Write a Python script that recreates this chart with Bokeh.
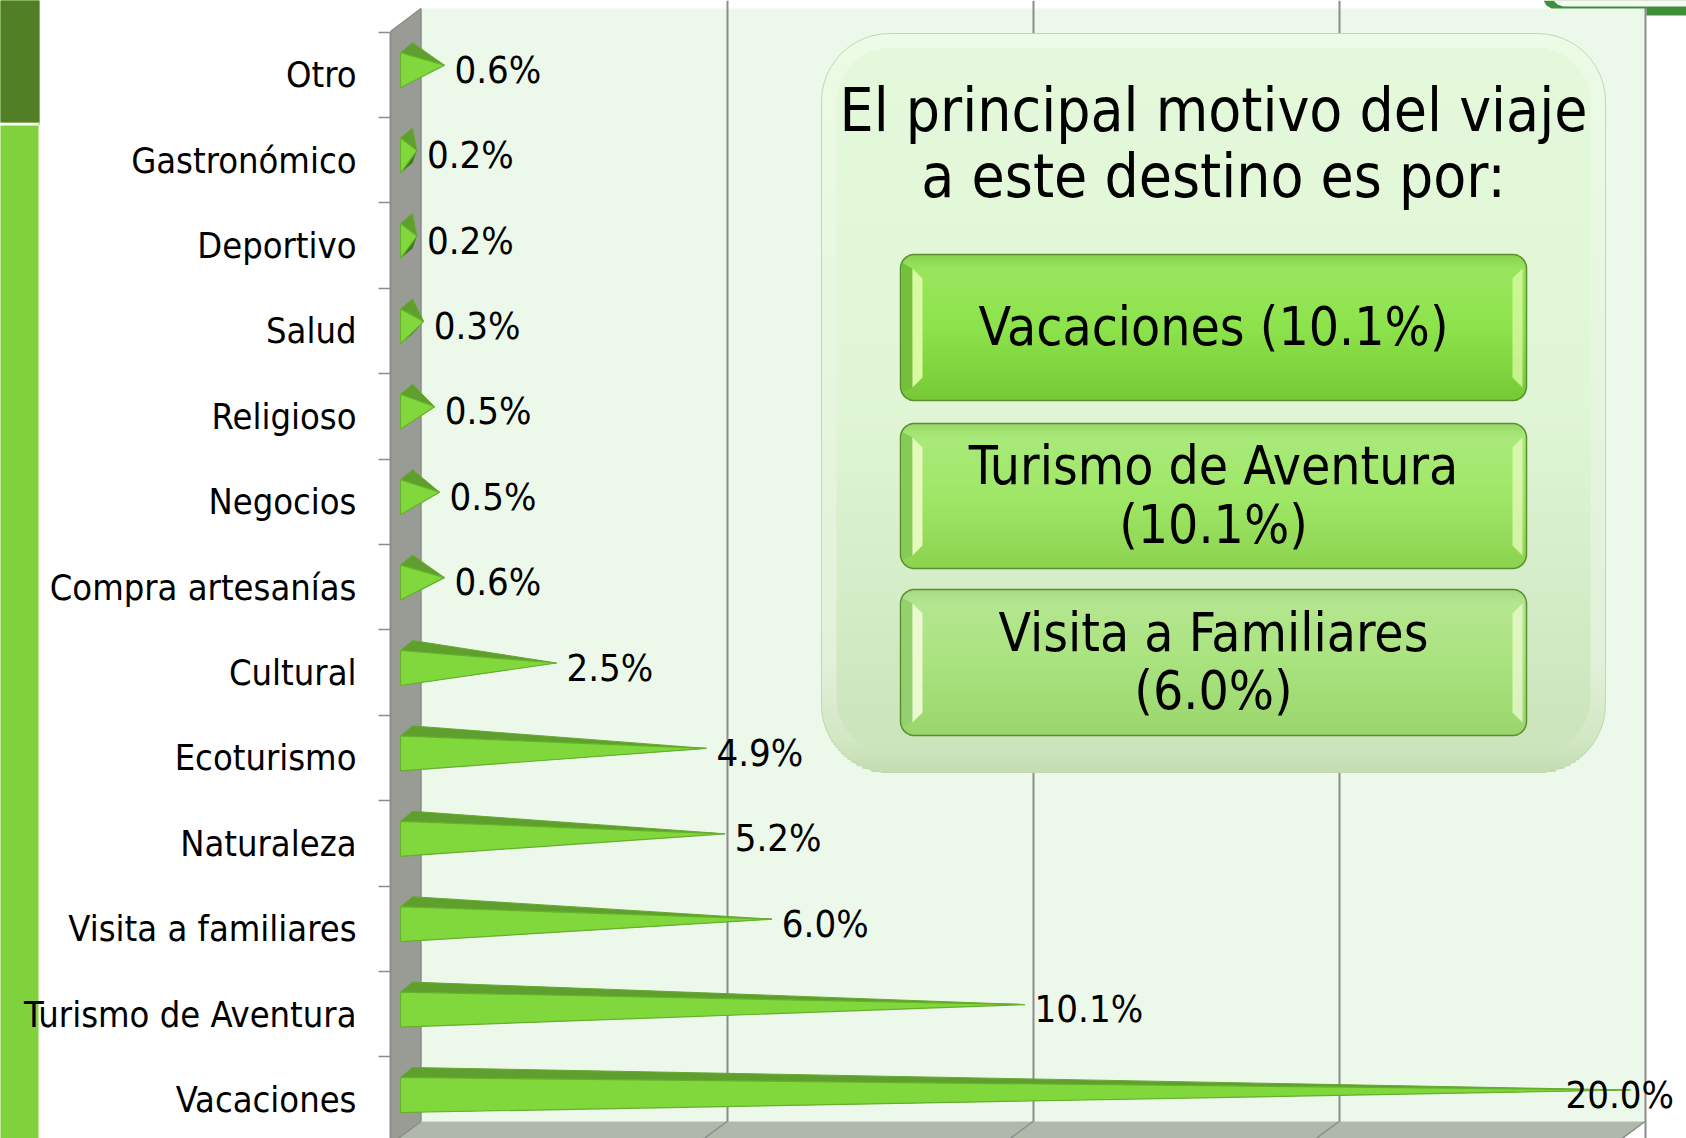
import math
from bokeh.plotting import figure
from bokeh.models import Range1d, LinearAxis, FixedTicker
from bokeh.core.properties import value
from bokeh.embed import file_html
from bokeh.resources import INLINE

# ---- data (bottom to top) ----
categories = ["Vacaciones", "Turismo de Aventura", "Visita a familiares", "Naturaleza",
              "Ecoturismo", "Cultural", "Compra artesanías", "Negocios", "Religioso",
              "Salud", "Deportivo", "Gastronómico", "Otro"]
values = [20.0, 10.1, 5.97, 5.2, 4.9, 2.45, 0.62, 0.54, 0.46, 0.28, 0.17, 0.17, 0.62]
labels = ["20.0%", "10.1%", "6.0%", "5.2%", "4.9%", "2.5%", "0.6%", "0.5%", "0.5%", "0.3%", "0.2%", "0.2%", "0.6%"]
grid_ticks = [5, 10, 15, 20]
title_lines = ["El principal motivo del viaje", "a este destino es por:"]
box_lines = [["Vacaciones (10.1%)"], ["Turismo de Aventura", "(10.1%)"], ["Visita a Familiares", "(6.0%)"]]

FONT = "DejaVu Sans Condensed"
W, H = 1686, 1138
FX0 = 390            # front edge of the side wall in page pixels
PX = 61.2            # pixels per percent
BACK0 = 420.5        # page x of 0 % on the back wall
PY = 85.4            # pixels per category
FRONT0 = 1099.0      # page y of the band centre of the first category


def hexlerp(stops, t):
    for (t0, c0), (t1, c1) in zip(stops, stops[1:]):
        if t <= t1:
            f = (t - t0) / (t1 - t0) if t1 > t0 else 0
            rgb = [int(c0[i:i + 2], 16) * (1 - f) + int(c1[i:i + 2], 16) * f for i in (1, 3, 5)]
            return "#%02x%02x%02x" % tuple(round(v) for v in rgb)
    return stops[-1][1]


xr = Range1d(-BACK0 / PX, (W - BACK0) / PX)
yr = Range1d((FRONT0 - H) / PY, FRONT0 / PY)
p = figure(width=W, height=H, x_range=xr, y_range=yr, output_backend="svg", toolbar_location=None,
           min_border_left=0, min_border_right=0, min_border_top=0, min_border_bottom=0,
           x_axis_location=None, y_axis_location=None, outline_line_color=None,
           background_fill_color="white", border_fill_color="white")
p.extra_x_ranges["px"] = Range1d(0, W)
p.extra_y_ranges["px"] = Range1d(H, 0)
PXK = dict(x_range_name="px", y_range_name="px")

# left decorative strip
p.quad(left=[-6, -6, 38], right=[39, 38, 39], top=[-6, 125, 122], bottom=[122, H + 6, 125],
       fill_color="#80d23c", line_color=None, level="underlay", **PXK)
p.quad(left=[-6], right=[39], top=[-6], bottom=[122], fill_color="#507f25", line_color=None, level="underlay", **PXK)

# back wall, side wall, floor
p.quad(left=[BACK0], right=[1645], top=[8], bottom=[1121], fill_color="#ecf8ea", line_color=None, level="underlay", **PXK)
p.xgrid.ticker = FixedTicker(ticks=grid_ticks)
p.xgrid.grid_line_color = "#8c8c8c"
p.xgrid.grid_line_width = 2
p.ygrid.visible = False
p.xgrid.level = "underlay"


def round_box(x0, x1, y0, y1, r, stops, step=3):
    ls, rs, ts, bs, cs = [], [], [], [], []
    y = y0
    while y < y1:
        ye = min(y + step, y1)
        ym = (y + ye) / 2
        d = 0
        if ym < y0 + r:
            d = r - math.sqrt(max(r * r - (y0 + r - ym) ** 2, 0))
        elif ym > y1 - r:
            d = r - math.sqrt(max(r * r - (ym - (y1 - r)) ** 2, 0))
        ls.append(x0 + d); rs.append(x1 - d); ts.append(y); bs.append(ye + 0.4)
        cs.append(hexlerp(stops, (ym - y0) / (y1 - y0)))
        y = ye
    p.quad(left=ls, right=rs, top=ts, bottom=bs, fill_color=cs, line_color=None, **PXK)


def round_outline(x0, x1, y0, y1, r, color, width):
    xs, ys = [], []
    for cx, cy, a0 in ((x1 - r, y0 + r, -90), (x1 - r, y1 - r, 0), (x0 + r, y1 - r, 90), (x0 + r, y0 + r, 180)):
        for k in range(13):
            a = math.radians(a0 + k * 7.5)
            xs.append(cx + r * math.cos(a)); ys.append(cy + r * math.sin(a))
    xs.append(xs[0]); ys.append(ys[0])
    p.line(xs, ys, line_color=color, line_width=width, **PXK)


# corner of the neighbouring frame
p.patch([1543, 1546, 1551, 1646, 1646, W, W], [0, 5, 8, 8, 15, 15, 0], fill_color="#3f8f3a", line_color=None, **PXK)
p.patch([1553, 1557, 1563, W, W], [0, 4, 6, 6, 0], fill_color="#f6faf4", line_color=None, **PXK)

p.patch([FX0, BACK0, BACK0, FX0], [31, 8, 1121, 1144], fill_color="#999c94", line_color=None, **PXK)
p.line([BACK0, BACK0], [8, 1121], line_color="#8c8c8c", line_width=1.5, **PXK)
p.line([FX0, BACK0], [31, 8], line_color="#8c8c8c", line_width=1.5, **PXK)
p.patch([BACK0, 1645, 1614, FX0], [1121, 1121, 1144, 1144], fill_color="#b0b8ac", line_color=None, **PXK)
for t in [0] + grid_ticks:
    gx = BACK0 + t * PX
    p.line([gx, gx - 31], [1121, 1144], line_color="#8c8c8c", line_width=1.5, **PXK)

# category axis, standing on the front edge of the side wall
centers = list(range(len(categories)))
edges = [i - 0.5 for i in range(len(categories) + 1)]
ax = LinearAxis(ticker=FixedTicker(ticks=centers, minor_ticks=edges),
                fixed_location=(FX0 - BACK0) / PX,
                major_label_overrides={i: c for i, c in enumerate(categories)},
                bounds=(-0.5, len(categories) - 0.5), axis_line_color="#8c8c8c", axis_line_width=2,
                major_tick_line_color=None, major_tick_in=0, major_tick_out=0,
                minor_tick_line_color="#8c8c8c", minor_tick_line_width=1.5, minor_tick_in=0, minor_tick_out=12,
                major_label_standoff=22, major_label_text_font=FONT, major_label_text_font_size="36px",
                major_label_text_color="#000000")
p.add_layout(ax, "left")

# pyramids: all drawn from the values through the main scales
DX = 1 / PX
DY = 1 / PY
BAR = -14.5 * DX             # bars stand in front of the back wall
bx0 = BAR - 6 * DX           # front edge of the base
bx1 = BAR + 6 * DX           # back edge of the base
for i, v in enumerate(values):
    tip = (BAR + v, i + 9.5 * DY)
    top_f = i + 22 * DY
    bot_f = i - 13 * DY
    p.patch([bx0, bx1, tip[0]], [bot_f, bot_f + 10 * DY, tip[1]], fill_color="#3f7a1d", line_color=None)
    p.patch([bx0, bx1, tip[0]], [top_f, top_f + 10 * DY, tip[1]], fill_color="#5f9f2d",
            line_color="#66a830", line_width=1)
    p.patch([bx0, bx0, tip[0]], [top_f, bot_f, tip[1]], fill_color="#80d83c",
            line_color="#66b02c", line_width=1.2)

# data labels
lab_x, lab_y, lab_t = [], [], []
for i, (v, t) in enumerate(zip(values, labels)):
    lab_x.append(BAR + v + (-65 if v >= 20 else 10) * DX)
    lab_y.append(i + 5 * DY)
    lab_t.append(t)
p.text(lab_x, lab_y, text=lab_t, text_font=value(FONT), text_font_size="38px", text_color="#000000",
       text_align="left", text_baseline="middle")

# big panel
round_box(821, 1605, 33, 772, 68, [(0, "#ecfbe5"), (0.85, "#e2f1da"), (0.955, "#d2e7c4"), (1, "#c3dcb2")])
round_box(836, 1590, 47, 752, 55, [(0, "#e4f9db"), (0.5, "#e0f6d6"), (1, "#cbe4bb")])
round_outline(821, 1605, 33, 772, 68, "#c2d6b4", 1)

for t, y in zip(title_lines, [109, 175]):
    p.text([1213], [y], text=[t], text_font=value(FONT), text_font_size="60px", text_color="#000000",
           text_align="center", text_baseline="middle", **PXK)

# three green buttons
btn_y = [(254, 400), (423, 568), (589, 735)]
btn_stops = [
    [(0, "#88d24e"), (0.1, "#99e55f"), (0.5, "#8de34b"), (1, "#76c936")],
    [(0, "#98d868"), (0.1, "#a9e97a"), (0.5, "#9fe766"), (1, "#8bd34f")],
    [(0, "#a5d880"), (0.1, "#b4e68f"), (0.5, "#a9e37e"), (1, "#9ad56c")],
]
btn_hl = ["#d9f9a4", "#e6f9bc", "#ecf9d0"]
btn_edge = ["#74bf3c", "#86cb55", "#94cf70"]
btn_text_y = [[326], [465, 524], [632, 690]]
for (y0, y1), st, hl, ed, lines, tys in zip(btn_y, btn_stops, btn_hl, btn_edge, box_lines, btn_text_y):
    round_box(900, 1526, y0, y1, 14, st, step=2)
    p.patch([901, 912, 912, 901], [y0 + 8, y0 + 14, y1 - 13, y1 - 8], fill_color=ed, line_color=None, **PXK)
    p.patch([912, 922, 922, 912], [y0 + 14, y0 + 24, y1 - 23, y1 - 13], fill_color=hl, line_color=None, **PXK)
    p.patch([1522, 1512, 1512, 1522], [y0 + 14, y0 + 24, y1 - 23, y1 - 13], fill_color=hl, fill_alpha=0.8, line_color=None, **PXK)
    round_outline(900, 1526, y0, y1, 14, "#5a8f30", 1.5)
    for t, y in zip(lines, tys):
        p.text([1213], [y], text=[t], text_font=value(FONT), text_font_size="53px", text_color="#000000",
               text_align="center", text_baseline="middle", **PXK)

open("out.html", "w").write(file_html(p, INLINE))
